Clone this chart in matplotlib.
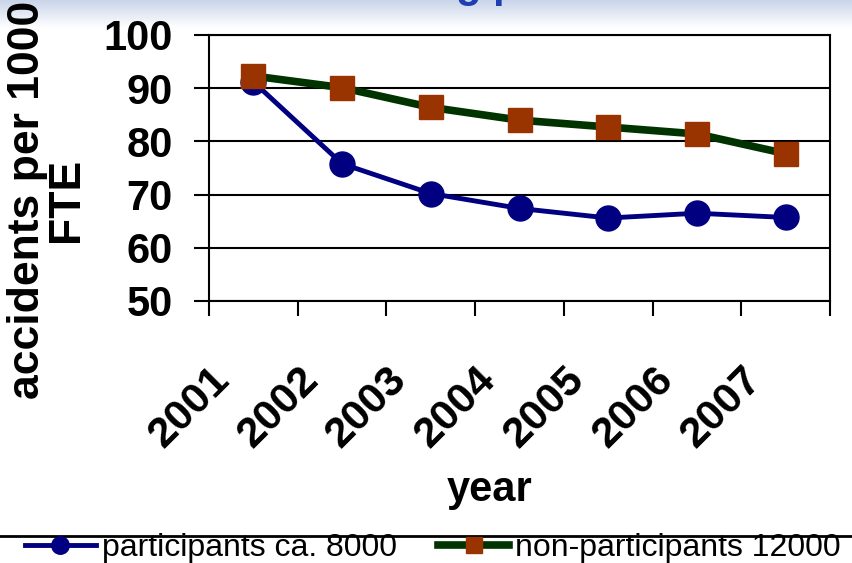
import numpy as np
import matplotlib.pyplot as plt
from matplotlib.lines import Line2D
from matplotlib.colors import LinearSegmentedColormap
from matplotlib.transforms import ScaledTranslation

years = ['2001', '2002', '2003', '2004', '2005', '2006', '2007']
participants = [91.2, 75.8, 70.2, 67.4, 65.6, 66.5, 65.7]
non_participants = [92.3, 90.1, 86.4, 84.0, 82.7, 81.4, 77.7]
yticks = [50, 60, 70, 80, 90, 100]

plt.rcParams['font.family'] = ['Liberation Sans', 'DejaVu Sans']

fig = plt.figure(figsize=(8.52, 5.63), dpi=100)

# faint slide background band at the top
band = fig.add_axes([0, 1 - 28 / 563, 1, 28 / 563], zorder=-1)
band.imshow(np.linspace(0, 1, 50).reshape(-1, 1), aspect='auto',
            cmap=LinearSegmentedColormap.from_list('bg', ['#c9d5ea', '#ffffff']))
band.axis('off')

# what is left of the slide title
fig.text(0.572, 1.006, 'g p', color='#1f3fb0', fontsize=30, fontweight='bold',
         ha='center', va='baseline')

ax = fig.add_axes([209 / 852, 1 - 301 / 563, 621 / 852, 266 / 563])
x = np.arange(len(years))

ax.plot(x, participants, color='#000080', lw=3.5, marker='o', ms=18,
        label='participants ca. 8000', zorder=3, clip_on=False)
ax.plot(x, non_participants, color='#003300', lw=5.5, marker='s', ms=17,
        mfc='#993300', mec='#993300', label='non-participants 12000',
        zorder=4, clip_on=False)

ax.set_xlim(-0.5, len(years) - 0.5)
ax.set_ylim(50, 100)
ax.set_yticks(yticks)
ax.yaxis.grid(True, color='black', lw=1.5)
ax.set_axisbelow(True)

# ticks between categories, labels on the categories
ax.set_xticks(np.arange(-0.5, len(years), 1))
ax.set_xticklabels([])
ax.set_xticks(x, minor=True)
ax.set_xticklabels(years, minor=True, rotation=45, ha='right', va='center',
                   rotation_mode='anchor', fontsize=31, fontweight='bold')
ax.tick_params(axis='x', which='minor', length=0, pad=52)
ax.tick_params(which='major', direction='out', length=11, width=1.5)
ax.tick_params(axis='y', labelsize=30, pad=15)
for lab in ax.get_yticklabels():
    lab.set_fontweight('bold')
shift = ScaledTranslation(-30 / 100, 0, fig.dpi_scale_trans)
for lab in ax.get_xticklabels(minor=True):
    lab.set_transform(lab.get_transform() + shift)

for s in ax.spines.values():
    s.set_linewidth(1.5)

ax.set_ylabel('accidents per 1000\nFTE', fontsize=32, fontweight='bold',
              linespacing=0.95)
ax.yaxis.set_label_coords(-0.196, 0.38)

fig.text(490 / 852, 1 - 490 / 563, 'year', fontsize=30, fontweight='bold',
         ha='center', va='center')

# legend strip at the bottom
fig.add_artist(Line2D([0, 1], [1 - 536 / 563] * 2, transform=fig.transFigure,
                      color='black', lw=2))
fig.legend(*ax.get_legend_handles_labels(), loc='center',
           bbox_to_anchor=(433 / 852, 1 - 548 / 563), ncol=2, frameon=False,
           fontsize=23, handlelength=2.2, handletextpad=0.2,
           columnspacing=1.3, markerscale=0.7, borderpad=0)

plt.savefig('out.png', dpi=100)
